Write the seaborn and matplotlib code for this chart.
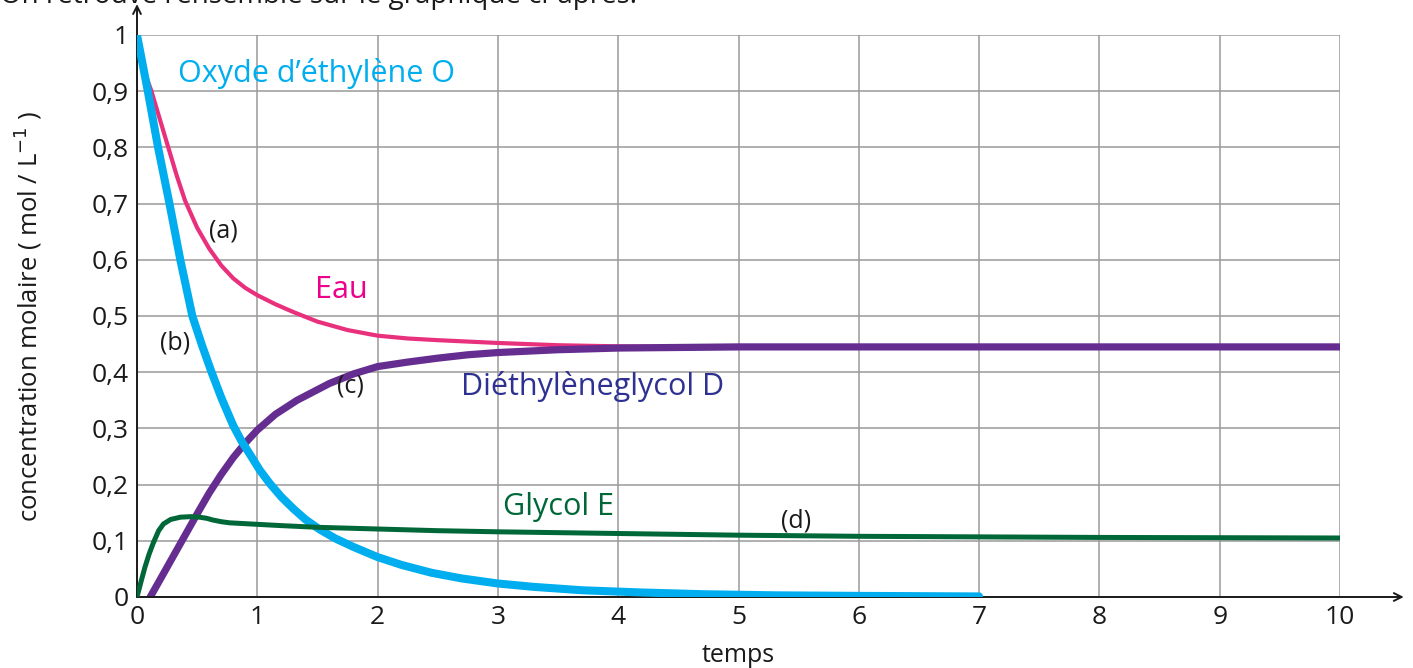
import matplotlib
matplotlib.use("Agg")
import matplotlib.pyplot as plt
import seaborn as sns

# valeurs
t_oxyde = [0, 0.09, 0.175, 0.27, 0.36, 0.46, 0.54, 0.62, 0.7, 0.8, 0.87, 0.95, 1.02, 1.1, 1.2, 1.3, 1.4,
           1.52, 1.65, 1.8, 2.0, 2.2, 2.45, 2.7, 3.0, 3.3, 3.7, 4.2, 4.7, 5.3, 6.0, 7.0]
c_oxyde = [1.0, 0.9, 0.8, 0.7, 0.6, 0.5, 0.448, 0.4, 0.355, 0.305, 0.277, 0.25, 0.226, 0.203, 0.178, 0.157, 0.138,
           0.12, 0.104, 0.089, 0.071, 0.057, 0.043, 0.033, 0.024, 0.018, 0.012, 0.008, 0.005, 0.003, 0.002, 0.001]

t_eau = [0, 0.03, 0.07, 0.12, 0.19, 0.26, 0.33, 0.4, 0.5, 0.6, 0.7, 0.8, 0.9, 1.0, 1.15, 1.3, 1.5, 1.75,
         2.0, 2.25, 2.5, 3.0, 3.5, 4.0, 4.5, 10.0]
c_eau = [1.0, 0.96, 0.93, 0.9, 0.85, 0.8, 0.75, 0.705, 0.657, 0.62, 0.59, 0.567, 0.55, 0.537, 0.521, 0.507, 0.49, 0.475,
         0.465, 0.46, 0.457, 0.452, 0.448, 0.446, 0.445, 0.445]

t_diethyl = [0.11, 0.2, 0.3, 0.4, 0.5, 0.6, 0.7, 0.8, 0.9, 1.0, 1.15, 1.33, 1.6, 1.8, 2.0, 2.25, 2.5, 2.75,
             3.0, 3.5, 4.0, 4.5, 5.0, 10.0]
c_diethyl = [0.0, 0.034, 0.072, 0.11, 0.148, 0.185, 0.218, 0.248, 0.274, 0.297, 0.325, 0.35, 0.38, 0.397, 0.41,
             0.418, 0.425, 0.431, 0.435, 0.44, 0.443, 0.444, 0.445, 0.445]

t_glycol = [0, 0.033, 0.066, 0.1, 0.135, 0.18, 0.22, 0.28, 0.36, 0.45, 0.52, 0.58, 0.63, 0.7, 0.77, 0.94,
            1.2, 1.5, 2.0, 2.5, 3.0, 4.0, 5.0, 6.0, 7.0, 8.0, 10.0]
c_glycol = [0.0, 0.027, 0.053, 0.076, 0.096, 0.118, 0.13, 0.138, 0.142, 0.143, 0.142, 0.14, 0.137, 0.134, 0.132, 0.13,
            0.127, 0.124, 0.121, 0.118, 0.116, 0.113, 0.11, 0.108, 0.107, 0.106, 0.105]

x_ticks = list(range(0, 11))
y_ticks = [round(0.1 * i, 1) for i in range(0, 11)]
y_tick_labels = ["0", "0,1", "0,2", "0,3", "0,4", "0,5", "0,6", "0,7", "0,8", "0,9", "1"]

sns.set_style("white")
plt.rcParams['font.family'] = ['Open Sans', 'DejaVu Sans']

fig = plt.figure(figsize=(14.13, 6.68), dpi=100)
ax = fig.add_axes([137 / 1413, 71 / 668, 1203 / 1413, 562 / 668])

grid_col = '#9a9a9a'
for x in x_ticks:
    ax.axvline(x, color=grid_col, lw=1.1, zorder=0)
for y in y_ticks:
    ax.axhline(y, color=grid_col, lw=1.1, zorder=0)

sns.lineplot(x=t_eau, y=c_eau, color='#e8307c', lw=3.0, ax=ax, zorder=2)
sns.lineplot(x=t_diethyl, y=c_diethyl, color='#662d91', lw=5.2, ax=ax, zorder=3)
sns.lineplot(x=t_oxyde, y=c_oxyde, color='#00aeef', lw=5.8, ax=ax, zorder=4)
sns.lineplot(x=t_glycol, y=c_glycol, color='#006838', lw=3.6, ax=ax, zorder=5)

ax.set_xlim(0, 10)
ax.set_ylim(0, 1)
ax.set_xticks(x_ticks)
ax.set_xticklabels([str(v) for v in x_ticks])
ax.set_yticks(y_ticks)
ax.set_yticklabels(y_tick_labels)
ax.tick_params(length=0, labelsize=19, colors='#1a1a1a', pad=6)
for s in ax.spines.values():
    s.set_visible(False)

# axes avec flèches
ax.annotate('', xy=(1.053, 0), xytext=(0, 0), xycoords='axes fraction',
            arrowprops=dict(arrowstyle='->', color='#1a1a1a', lw=1.4, shrinkA=0, shrinkB=0,
                            mutation_scale=14), annotation_clip=False)
ax.annotate('', xy=(0, 1.055), xytext=(0, 0), xycoords='axes fraction',
            arrowprops=dict(arrowstyle='->', color='#1a1a1a', lw=1.4, shrinkA=0, shrinkB=0,
                            mutation_scale=14), annotation_clip=False)

ax.set_xlabel('temps', fontsize=18, color='#1a1a1a', labelpad=9)
ax.set_ylabel('concentration molaire ( mol / L$^{-1}$ )', fontsize=18.5, color='#1a1a1a', labelpad=34)

ax.text(0.34, 0.932, 'Oxyde d\u2019éthylène O', color='#00aeef', fontsize=22, va='center')
ax.text(0.6, 0.651, '(a)', color='#1a1a1a', fontsize=18, va='center')
ax.text(1.48, 0.546, 'Eau', color='#ec008c', fontsize=22, va='center')
ax.text(0.19, 0.452, '(b)', color='#1a1a1a', fontsize=18, va='center')
ax.text(1.66, 0.375, '(c)', color='#1a1a1a', fontsize=18, va='center')
ax.text(2.69, 0.375, 'Diéthylèneglycol D', color='#2e3192', fontsize=22, va='center')
ax.text(3.04, 0.16, 'Glycol E', color='#006838', fontsize=22, va='center')
ax.text(5.35, 0.135, '(d)', color='#1a1a1a', fontsize=18, va='center')

fig.text(0.0, 1 - 3 / 668, 'On retrouve l\u2019ensemble sur le graphique ci-après.',
         fontsize=20, color='#1a1a1a', va='baseline', ha='left')

fig.savefig('out.png', dpi=100)
